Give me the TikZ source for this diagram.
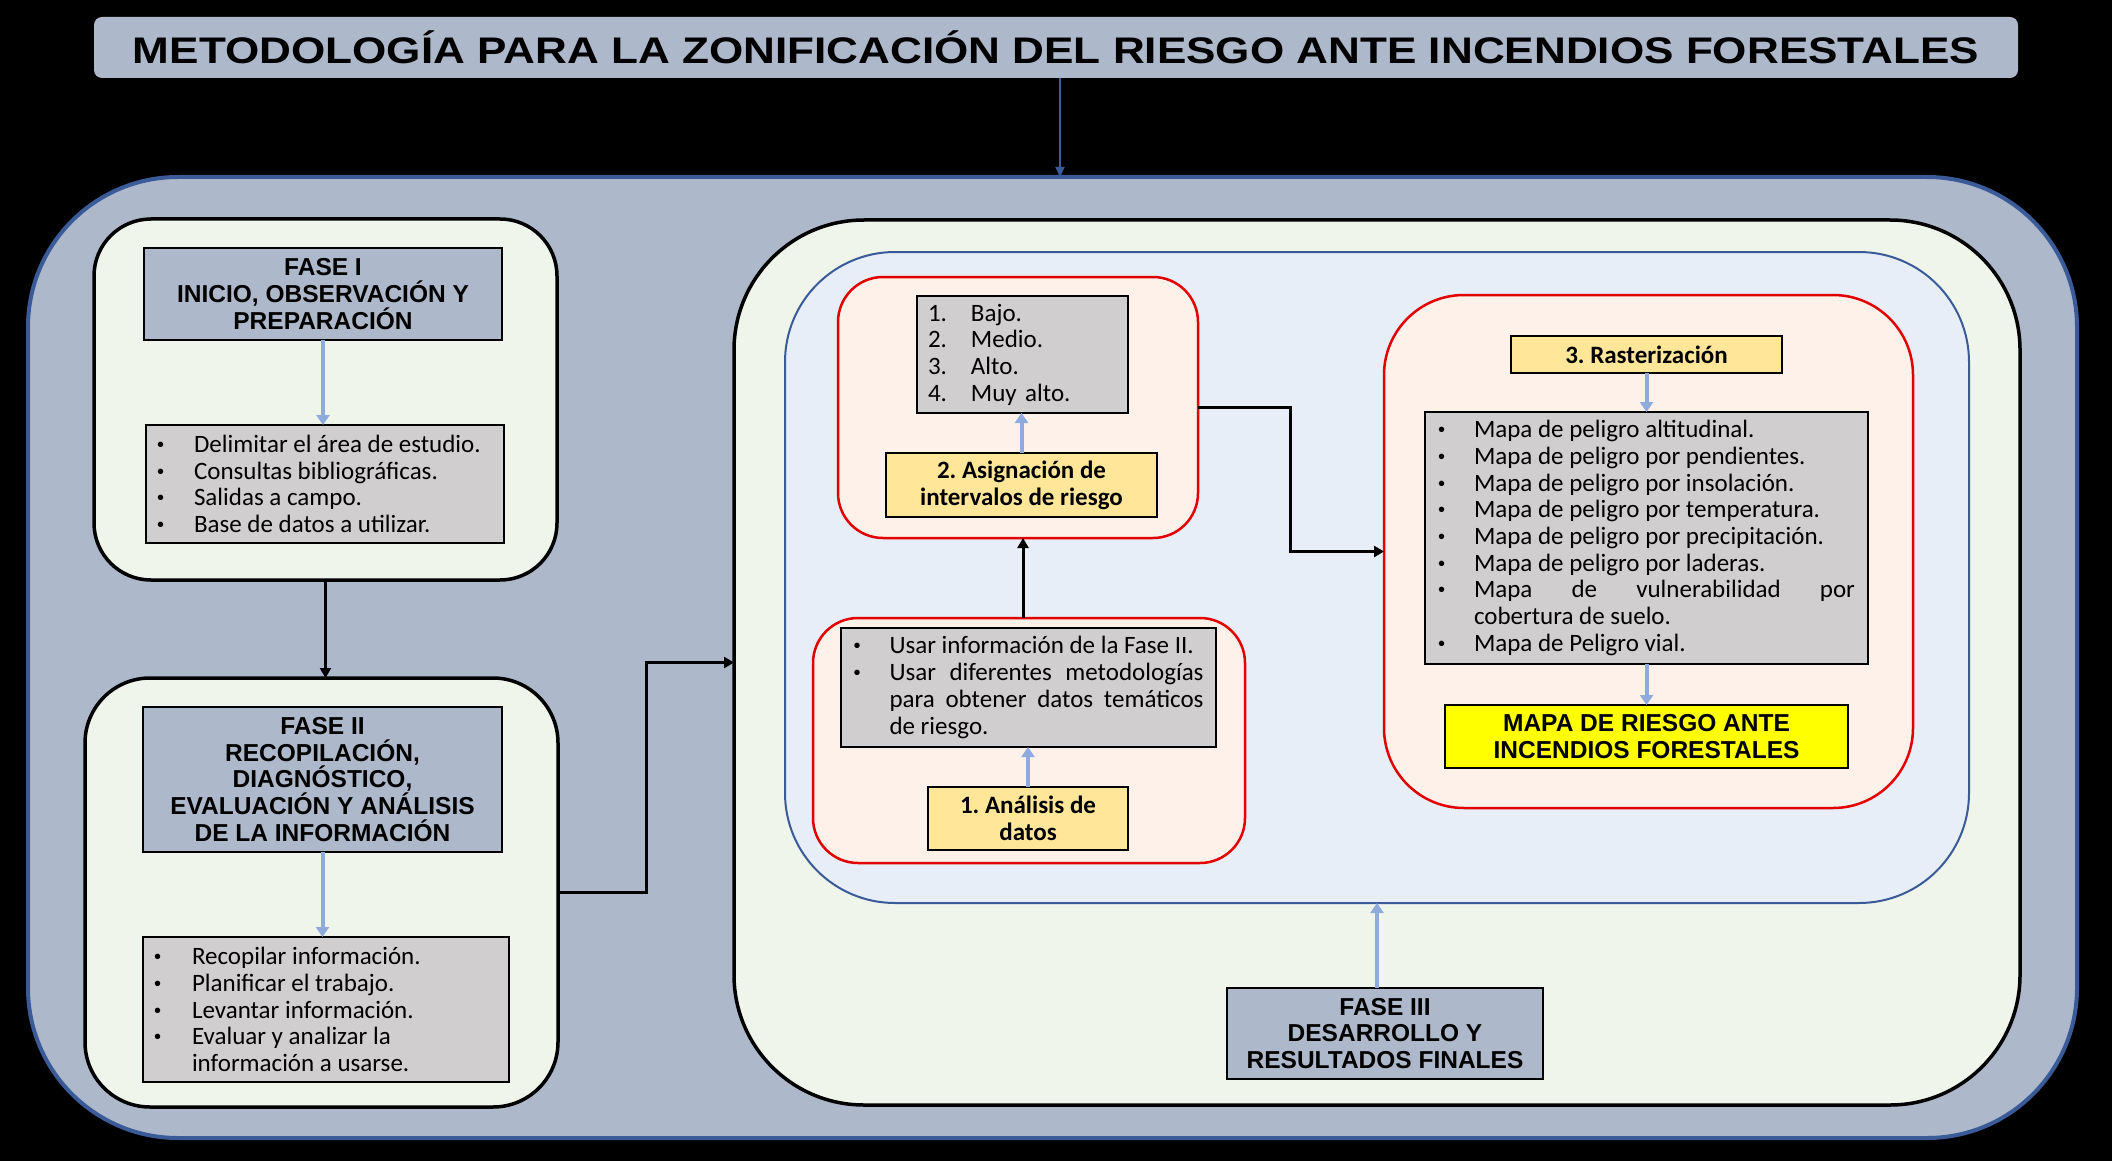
\documentclass[tikz,border=0pt]{standalone}
\usepackage{fontspec}
\usepackage{graphicx}
\setmainfont{Carlito}
\newfontfamily\arial{Liberation Sans}
\usetikzlibrary{arrows.meta}
\definecolor{bgray}{HTML}{ADB9CA}
\definecolor{dblue}{HTML}{3A5A98}
\definecolor{pgreen}{HTML}{EFF5EA}
\definecolor{lgray}{HTML}{D0CECE}
\definecolor{iblue}{HTML}{E7EEF8}
\definecolor{redc}{HTML}{E30000}
\definecolor{rfill}{HTML}{FDF1EA}
\definecolor{ylight}{HTML}{FFE699}
\definecolor{ybright}{HTML}{FFFF00}
\definecolor{lblue}{HTML}{8FAADC}
\newcommand\bitem[2]{\noindent\hangindent=#1\hangafter=1\makebox[#1][l]{\raisebox{1pt}{\arial\fontsize{20pt}{20pt}\selectfont\char"2022}}#2\par}
\newcommand\nitem[2]{\noindent\makebox[43pt][l]{#1}#2\par}
\frenchspacing
\begin{document}
\begin{tikzpicture}[x=1pt,y=-1pt,
  bx/.style={inner sep=0pt, outer sep=0pt},
  hdr/.style={bx, draw=black, line width=1.5pt, fill=bgray, align=center, font=\arial\bfseries\fontsize{24.5pt}{26.7pt}\selectfont},
  lst/.style={bx, draw=black, line width=1.5pt, fill=lgray, align=justify, font=\fontsize{25pt}{26.7pt}\selectfont},
  ylw/.style={bx, draw=black, line width=1.5pt, fill=ylight, align=center, font=\bfseries\fontsize{25pt}{26.7pt}\selectfont},
  phase/.style={bx, draw=black, line width=3.5pt, fill=pgreen},
  redbox/.style={bx, draw=redc, line width=2.5pt, fill=rfill, rounded corners=45pt},
  blk/.style={line width=3pt, -{Triangle[width=11pt,length=10pt]}},
  lb/.style={draw=lblue, line width=4pt, -{Triangle[width=13pt,length=10pt]}},
  ttl/.style={draw=dblue, line width=2pt, -{Triangle[width=9pt,length=10pt]}},
]
\fill[black] (0,0) rectangle (2112,1161);
\useasboundingbox (0,0) rectangle (2112,1161);

% title
\node[bx, fill=bgray, rounded corners=8pt, minimum width=1924pt, minimum height=61pt] (title) at (1056,47.5)
  {\resizebox{1846pt}{\height}{\arial\bfseries\fontsize{37pt}{40pt}\selectfont METODOLOGÍA PARA LA ZONIFICACIÓN DEL RIESGO ANTE INCENDIOS FORESTALES}};

% outer
\node[bx, draw=dblue, line width=4pt, fill=bgray, rounded corners=150pt, minimum width=2049pt, minimum height=961pt] (outer) at (1052.5,657.5) {};

% phase I
\node[phase, rounded corners=57pt, minimum width=463pt, minimum height=361pt] (f1) at (325.5,399.5) {};
\node[hdr, minimum width=358pt, minimum height=92pt] (f1h) at (323,294) {FASE I\\INICIO, OBSERVACIÓN Y\\PREPARACIÓN};
\node[lst, text width=336pt, minimum width=358pt, minimum height=118pt] (f1b) at (325,484)
  {\bitem{37pt}{Delimitar el área de estudio.}\bitem{37pt}{Consultas bibliográficas.}\bitem{37pt}{Salidas a campo.}\bitem{37pt}{Base de datos a utilizar.}};

% phase II
\node[phase, rounded corners=65pt, minimum width=473pt, minimum height=429pt] (f2) at (321.5,892.5) {};
\node[hdr, minimum width=359pt, minimum height=145pt] (f2h) at (322.5,779.5) {FASE II\\RECOPILACIÓN,\\DIAGNÓSTICO,\\EVALUACIÓN Y ANÁLISIS\\DE LA INFORMACIÓN};
\node[lst, text width=344pt, minimum width=366pt, minimum height=145pt] (f2b) at (326,1009.5)
  {\bitem{38pt}{Recopilar información.}\bitem{38pt}{Planificar el trabajo.}\bitem{38pt}{Levantar información.}\bitem{38pt}{Evaluar y analizar la\newline información a usarse.}};

% phase III
\node[phase, rounded corners=130pt, minimum width=1286pt, minimum height=885pt] (f3) at (1377,662.5) {};
\node[bx, draw=dblue, line width=2pt, fill=iblue, rounded corners=110pt, minimum width=1184pt, minimum height=651pt] (inner) at (1377,577.5) {};

% box 2
\node[redbox, minimum width=360pt, minimum height=261pt] (r2) at (1018,407.5) {};
\node[lst, text width=189pt, align=left, minimum width=211pt, minimum height=117pt] (g2) at (1022.5,354.5)
  {\nitem{1.}{Bajo.}\nitem{2.}{Medio.}\nitem{3.}{Alto.}\nitem{4.}{Muy alto.}};
\node[ylw, minimum width=271pt, minimum height=64pt] (y2) at (1021.5,485) {2. Asignación de\\intervalos de riesgo};

% box 1
\node[redbox, minimum width=432pt, minimum height=245pt] (r1) at (1029,740.5) {};
\node[lst, text width=350pt, minimum width=375pt, minimum height=119pt] (g1) at (1028.5,687.5)
  {\bitem{36pt}{Usar información de la Fase II.}\bitem{36pt}{Usar diferentes metodologías\linebreak para obtener datos temáticos\linebreak de riesgo.}};
\node[ylw, minimum width=200pt, minimum height=63pt] (y1) at (1028,818.5) {1. Análisis de\\datos};

% box 3
\node[redbox, rounded corners=80pt, minimum width=529pt, minimum height=513pt] (r3) at (1648.5,551.5) {};
\node[ylw, minimum width=271pt, minimum height=37pt] (y3) at (1646.5,354.5) {3. Rasterización};
\node[lst, text width=417pt, minimum width=443pt, minimum height=252pt] (g3) at (1646.5,538)
  {\bitem{36pt}{Mapa de peligro altitudinal.}\bitem{36pt}{Mapa de peligro por pendientes.}\bitem{36pt}{Mapa de peligro por insolación.}\bitem{36pt}{Mapa de peligro por temperatura.}\bitem{36pt}{Mapa de peligro por precipitación.}\bitem{36pt}{Mapa de peligro por laderas.}\bitem{36pt}{Mapa de vulnerabilidad por\linebreak cobertura de suelo.}\bitem{36pt}{Mapa de Peligro vial.}};
\node[bx, draw=black, line width=1.5pt, fill=ybright, align=center, font=\arial\bfseries\fontsize{24.5pt}{26.7pt}\selectfont, minimum width=403pt, minimum height=63pt] (map) at (1646.5,736.5) {MAPA DE RIESGO ANTE\\INCENDIOS FORESTALES};

% fase III label
\node[hdr, minimum width=316pt, minimum height=91pt] (lab) at (1385,1033.5) {FASE III\\DESARROLLO Y\\RESULTADOS FINALES};

% connectors
\coordinate (cT) at (1060,0);
\draw[ttl] (cT |- title.south) -- (cT |- outer.north);
\draw[lb] (f1h.south) -- (f1h.south |- f1b.north);
\draw[lb] (f2h.south) -- (f2h.south |- f2b.north);
\draw[blk] (f1.south) -- (f1.south |- f2.north);
\draw[blk] (f2.east) -- ++(88,0) |- (f3.west);
\draw[lb] (y1.north) -- (y1.north |- g1.south);
\draw[lb] (y2.north) -- (y2.north |- g2.south);
\coordinate (c12) at (1023,0);
\draw[blk] (c12 |- r1.north) -- (c12 |- r2.south);
\draw[blk] (r2.east) -- ++(92,0) |- (r3.west);
\draw[lb] (y3.south) -- (y3.south |- g3.north);
\draw[lb] (g3.south) -- (g3.south |- map.north);
\coordinate (c3) at (1377,0);
\draw[lb] (c3 |- lab.north) -- (c3 |- inner.south);
\end{tikzpicture}
\end{document}
